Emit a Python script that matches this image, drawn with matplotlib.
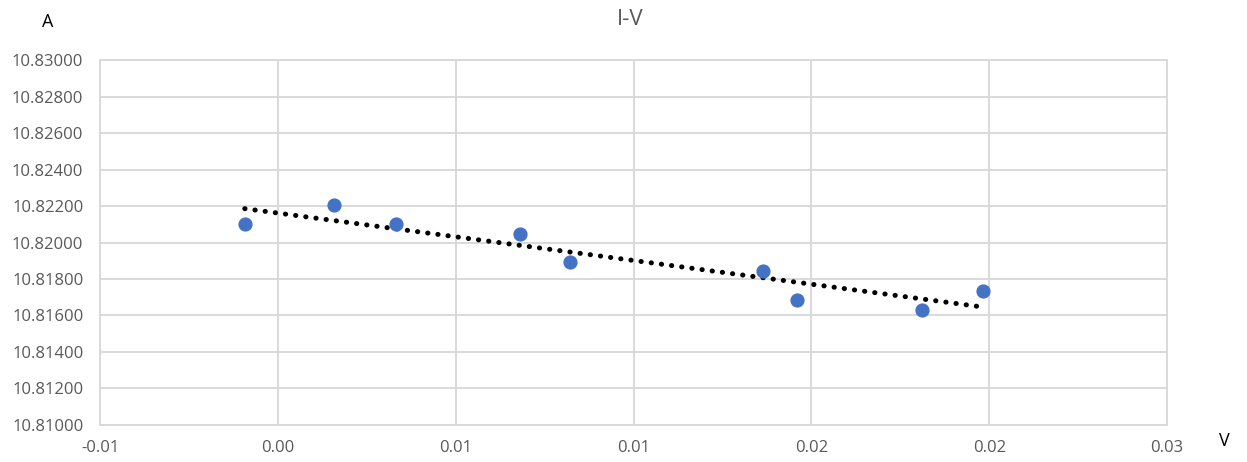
import numpy as np
import matplotlib.pyplot as plt

plt.rcParams['font.family'] = ['Open Sans', 'DejaVu Sans']

# measured points (V, A)
volts = [-0.00093, 0.00157, 0.00331, 0.00680, 0.00820, 0.01365, 0.01460, 0.01810, 0.01983]
amps = [10.82101, 10.82205, 10.82101, 10.82047, 10.81893, 10.81844, 10.81685, 10.81630, 10.81734]

x_ticks = [-0.005, 0.0, 0.005, 0.01, 0.015, 0.02, 0.025]
x_labels = ["-0.01", "0.00", "0.01", "0.01", "0.02", "0.02", "0.03"]
y_ticks = np.arange(10.81, 10.83001, 0.002)

fig = plt.figure(figsize=(12.47, 4.62), dpi=100)
ax = fig.add_axes([0.0802, 0.0801, 0.8557, 0.79])

grid_col = '#d9d9d9'
text_col = '#595959'

ax.scatter(volts, amps, s=85, color='#4472C4', zorder=3)

# linear trendline
k, m = np.polyfit(volts, amps, 1)
xs = np.array([min(volts), max(volts)])
ax.plot(xs, k * xs + m, color='black', lw=3.6, linestyle=(0, (0.05, 2.0)),
        dash_capstyle='round', zorder=2)

ax.set_xlim(-0.005, 0.025)
ax.set_ylim(10.81, 10.83)
ax.set_xticks(x_ticks)
ax.set_xticklabels(x_labels)
ax.set_yticks(y_ticks)
ax.set_yticklabels([f"{t:.5f}" for t in y_ticks])
ax.grid(True, color=grid_col, lw=1.4)
ax.set_axisbelow(True)
for s in ax.spines.values():
    s.set_color(grid_col)
    s.set_linewidth(1.4)
ax.tick_params(length=0, colors=text_col, labelsize=12, pad=12)
ax.tick_params(axis='x', pad=11)

fig.text(0.505, 0.958, "I-V", ha='center', va='center', fontsize=16, color=text_col)
fig.text(0.038, 0.952, "A", ha='center', va='center', fontsize=13, color='black')
fig.text(0.982, 0.045, "V", ha='center', va='center', fontsize=13, color='black')

fig.savefig('out.png', dpi=100)
